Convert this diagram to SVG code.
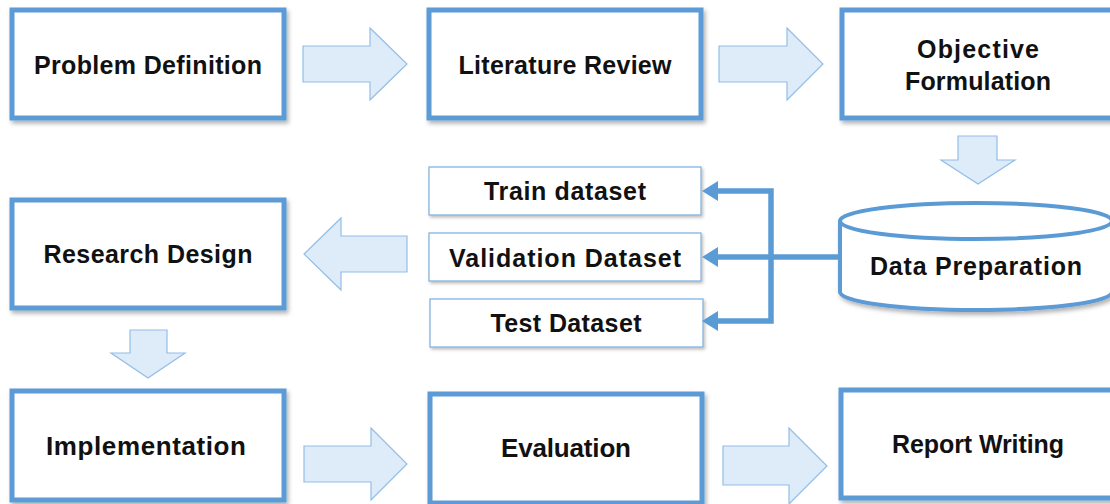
<svg xmlns="http://www.w3.org/2000/svg" width="1110" height="504" viewBox="0 0 1110 504">
  <style>
    .box { fill: #ffffff; stroke: #5b9bd5; stroke-width: 5; filter: url(#shadow); }
    .sbox { fill: #ffffff; stroke: #7aaee0; stroke-width: 1.2; filter: url(#shadowS); }
    .blk { fill: #deebf8; stroke: #92bee8; stroke-width: 1.2; }
    .lbl { font-family: "Liberation Sans", Arial, sans-serif; font-weight: bold; font-size: 25px; fill: #111111; text-anchor: middle; }
    .big { font-size: 26px; }
    .link { fill: none; stroke: #5b9bd5; stroke-width: 5.5; }
  </style>
  <defs>
    <filter id="shadow" x="-10%" y="-10%" width="125%" height="130%">
      <feDropShadow dx="2" dy="3" stdDeviation="2" flood-color="#000000" flood-opacity="0.3"/>
    </filter>
    <filter id="shadowS" x="-10%" y="-20%" width="125%" height="150%">
      <feDropShadow dx="1.5" dy="2" stdDeviation="1.5" flood-color="#000000" flood-opacity="0.25"/>
    </filter>
    <marker id="head" viewBox="0 0 16 20" refX="1" refY="10" markerWidth="16" markerHeight="20" markerUnits="userSpaceOnUse" orient="auto">
      <path d="M0,0 L16,10 L0,20 Z" fill="#5b9bd5"/>
    </marker>
  </defs>

  <rect width="1110" height="504" fill="#ffffff"/>

  <!-- process boxes -->
  <g id="problem-definition">
    <rect class="box" x="12" y="10" width="272" height="108"/>
    <text class="lbl" x="148" y="74" textLength="228">Problem Definition</text>
  </g>
  <g id="literature-review">
    <rect class="box" x="429" y="10" width="272" height="108"/>
    <text class="lbl" x="565" y="74" textLength="213">Literature Review</text>
  </g>
  <g id="objective-formulation">
    <rect class="box" x="842" y="10" width="272" height="108"/>
    <text class="lbl" x="978" y="58" textLength="122">Objective</text>
    <text class="lbl" x="978" y="90" textLength="146">Formulation</text>
  </g>
  <g id="data-preparation">
    <path d="M840,221 L840,292 A136,18 0 0 0 1112,292 L1112,221" fill="#ffffff" stroke="#5b9bd5" stroke-width="4" filter="url(#shadow)"/>
    <ellipse cx="976" cy="221" rx="136" ry="18" fill="#ffffff" stroke="#5b9bd5" stroke-width="4"/>
    <text class="lbl" x="976" y="275" textLength="212">Data Preparation</text>
  </g>
  <g id="train-dataset">
    <rect class="sbox" x="429" y="167" width="272" height="48"/>
    <text class="lbl" x="565" y="200" textLength="162">Train dataset</text>
  </g>
  <g id="validation-dataset">
    <rect class="sbox" x="429" y="233" width="272" height="48"/>
    <text class="lbl" x="565" y="267" textLength="232">Validation Dataset</text>
  </g>
  <g id="test-dataset">
    <rect class="sbox" x="430" y="299" width="273" height="48"/>
    <text class="lbl" x="566" y="332" textLength="151">Test Dataset</text>
  </g>
  <g id="research-design">
    <rect class="box" x="12" y="200" width="272" height="108"/>
    <text class="lbl" x="148" y="263" textLength="209">Research Design</text>
  </g>
  <g id="implementation">
    <rect class="box" x="12" y="391" width="272" height="109"/>
    <text class="lbl big" x="146" y="455" textLength="200">Implementation</text>
  </g>
  <g id="evaluation">
    <rect class="box" x="430" y="394" width="272" height="109"/>
    <text class="lbl big" x="566" y="457" textLength="130">Evaluation</text>
  </g>
  <g id="report-writing">
    <rect class="box" x="841" y="390" width="272" height="108"/>
    <text class="lbl" x="978" y="453" textLength="172">Report Writing</text>
  </g>

  <!-- connectors -->
  <g id="connectors">
    <!-- block arrows between stages -->
    <polygon class="blk" points="303,46 370,46 370,28 407,64 370,100 370,82 303,82"/>
    <polygon class="blk" points="719,46 787,46 787,28 823,64 787,100 787,82 719,82"/>
    <polygon class="blk" points="958,136 997,136 997,160 1015,160 978,184 941,160 958,160"/>
    <polygon class="blk" points="407,236 341,236 341,218 304,254 341,290 341,272 407,272"/>
    <polygon class="blk" points="130,330 167,330 167,353 185,353 148,378 111,353 130,353"/>
    <polygon class="blk" points="304,446 371,446 371,428 407,464 371,500 371,482 304,482"/>
    <polygon class="blk" points="723,446 789,446 789,428 827,466 789,504 789,485 723,485"/>
    <!-- dataset split lines -->
    <line class="link" x1="840" y1="257" x2="717" y2="257" marker-end="url(#head)"/>
    <path class="link" d="M771,257 L771,191 L717,191" marker-end="url(#head)"/>
    <path class="link" d="M771,257 L771,321 L717,321" marker-end="url(#head)"/>
  </g>
</svg>
